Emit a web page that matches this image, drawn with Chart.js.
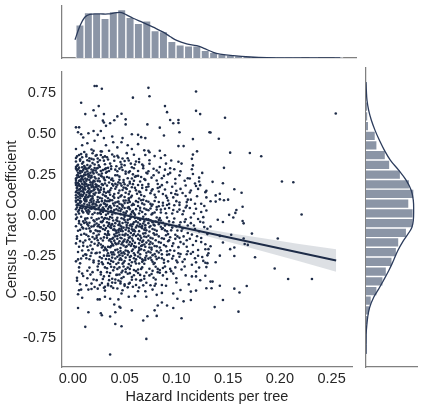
<!DOCTYPE html>
<html>
<head>
<meta charset="utf-8">
<script src="https://cdn.jsdelivr.net/npm/chart.js@4.4.1/dist/chart.umd.min.js"></script>
<style>
  body { margin: 0; background: #fff; width: 423px; height: 410px; position: relative; overflow: hidden; }
  canvas { position: absolute; }
</style>
</head>
<body>
<canvas id="topChart" width="306" height="64" style="left:56px;top:0px"></canvas>
<canvas id="mainChart" width="356" height="342" style="left:0px;top:68px"></canvas>
<canvas id="rightChart" width="63" height="311" style="left:360px;top:62px"></canvas>
<script>
// axis limits and ticks
const xRange = [-0.0105, 0.2697];
const yRange = [-0.928, 0.879];
const xTicks = [0, 0.05, 0.1, 0.15, 0.2, 0.25];
const yTicks = [-0.75, -0.5, -0.25, 0, 0.25, 0.5, 0.75];

// scatter: hazard incidents per tree vs census tract coefficient
const coreLeft = [
  [.003,.352],[.006,.371],[.009,.318],[.004,.305],[.011,.389],[.007,.336],
  [.003,.287],[.005,.262],[.008,.241],[.010,.279],[.003,.226],[.006,.213],[.009,.295],[.011,.251],[.004,.233],[.007,.272],[.003,.204],[.010,.219],[.005,.246],[.008,.208],
  [.003,.187],[.004,.172],[.006,.158],[.009,.194],[.011,.166],[.003,.143],[.007,.181],[.010,.127],[.005,.115],[.008,.149],[.003,.109],[.006,.133],[.009,.176],[.004,.198],[.011,.138],[.007,.121],
  [.003,.092],[.005,.071],[.008,.085],[.010,.054],[.003,.038],[.006,.012],[.009,.027],[.004,.063],[.011,.096],[.007,.046],
  [.003,-.021],[.006,-.048],[.009,-.072],[.005,-.093],[.010,-.036],[.008,-.008],
  [.004,-.128],[.007,-.157],[.010,-.186],[.003,-.171],[.011,-.112],
  [.005,-.224],[.008,-.263],[.003,-.281],[.010,-.247],
  [.006,-.318],[.009,-.356],[.004,-.382],[.007,-.421],
  [.013,.362],[.016,.334],[.019,.381],[.021,.312],[.014,.309],[.018,.347],[.020,.396],
  [.013,.284],[.015,.257],[.017,.231],[.019,.268],[.021,.209],[.014,.222],[.016,.296],[.018,.243],[.020,.277],[.012,.248],[.017,.203],[.021,.236],[.015,.289],
  [.013,.193],[.015,.168],[.017,.146],[.019,.183],[.021,.127],[.014,.112],[.016,.137],[.018,.174],[.020,.154],[.012,.159],[.022,.191],[.017,.119],[.019,.106],[.015,.186],
  [.013,.088],[.016,.062],[.018,.041],[.020,.075],[.014,.019],[.017,.093],[.021,.053],[.015,.034],[.019,.008],[.022,.069],[.013,.047],
  [.014,-.017],[.016,-.044],[.018,-.068],[.020,-.029],[.013,-.081],[.021,-.057],[.017,-.095],[.015,-.062],
  [.013,-.118],[.016,-.146],[.019,-.132],[.021,-.173],[.014,-.191],[.018,-.162],[.020,-.109],
  [.015,-.213],[.017,-.248],[.020,-.276],[.013,-.262],[.022,-.231],
  [.016,-.319],[.019,-.347],[.014,-.384],[.018,-.417],[.021,-.438],
  [.023,.371],[.026,.338],[.029,.356],[.031,.314],[.024,.327],[.028,.392],
  [.023,.288],[.025,.251],[.027,.273],[.030,.226],[.032,.262],[.024,.212],[.028,.239],[.026,.297],[.031,.284],
  [.023,.187],[.025,.154],[.027,.171],[.029,.128],[.031,.196],[.024,.113],[.026,.142],[.030,.163],[.028,.104],[.032,.139],
  [.023,.082],[.025,.047],[.027,.066],[.029,.021],[.031,.091],[.024,.013],[.026,.059],[.028,.036],[.030,.074],[.032,.004],
  [.023,-.024],[.025,-.057],[.027,-.039],[.029,-.083],[.031,-.016],[.024,-.096],[.026,-.071],[.028,-.011],[.030,-.062],
  [.023,-.124],[.025,-.168],[.027,-.141],[.029,-.187],[.031,-.113],[.024,-.152],[.028,-.196],[.030,-.134],
  [.023,-.229],[.026,-.254],[.028,-.287],[.030,-.213],[.032,-.266],[.025,-.296],
  [.024,-.334],[.027,-.361],[.029,-.389],[.031,-.318],[.026,-.426],[.030,-.443]
];

const extraLeft = [
  [.004,.362],[.007,.344],[.010,.327],[.005,.311],[.008,.376],[.011,.303],[.003,.331],[.009,.357],
  [.003,.297],[.005,.283],[.007,.259],[.009,.268],[.011,.288],[.004,.247],[.006,.236],[.008,.222],[.010,.241],
  [.012,.263],[.003,.217],[.005,.201],[.007,.214],[.009,.229],[.011,.206],[.004,.276],[.006,.293],[.008,.271],
  [.003,.196],[.005,.183],[.007,.162],[.009,.171],[.011,.189],[.004,.153],[.006,.141],[.008,.129],[.010,.146],
  [.012,.178],[.003,.124],[.005,.137],[.007,.106],[.009,.118],[.011,.101],[.004,.167],[.006,.191],[.008,.174],
  [.010,.157],[.012,.113],
  [.003,.084],[.005,.096],[.007,.078],[.009,.061],[.011,.072],[.004,.049],[.006,.033],[.008,.057],[.010,.019],
  [.012,.041],[.003,.006],[.005,.024],[.007,.089],[.009,.043],
  [.004,-.012],[.006,-.034],[.008,-.057],[.010,-.079],[.012,-.018],[.003,-.066],[.007,-.088],[.011,-.046],
  [.004,-.142],[.006,-.191],[.008,-.118],[.010,-.166],[.012,-.237],[.005,-.269],[.009,-.214],[.007,-.293],
  [.006,-.343],[.010,-.371],[.004,-.399],
  [.013,.374],[.016,.351],[.019,.321],[.022,.366],[.014,.338],[.017,.304],[.020,.343],
  [.012,.294],[.014,.271],[.016,.246],[.018,.282],[.020,.258],[.022,.227],[.013,.213],[.015,.238],[.017,.262],
  [.019,.204],[.021,.291],[.012,.226],[.014,.251],[.016,.217],[.018,.234],[.020,.212],[.022,.276],
  [.012,.197],[.014,.181],[.016,.163],[.018,.148],[.020,.172],[.022,.139],[.013,.126],[.015,.151],[.017,.188],
  [.019,.117],[.021,.161],[.012,.108],[.014,.143],[.016,.124],[.018,.101],[.020,.133],[.022,.176],[.015,.113],
  [.019,.194],
  [.012,.087],[.014,.066],[.016,.078],[.018,.053],[.020,.091],[.022,.038],[.013,.029],[.015,.011],[.017,.044],
  [.019,.068],[.021,.017],[.013,.097],[.016,.024],[.018,.083],[.020,.051],
  [.012,-.026],[.014,-.053],[.016,-.079],[.018,-.014],[.020,-.066],[.022,-.091],[.013,-.041],[.017,-.098],[.021,-.037],
  [.012,-.153],[.015,-.127],[.017,-.184],[.019,-.206],[.021,-.143],[.013,-.241],[.016,-.268],[.018,-.229],[.020,-.287],
  [.014,-.338],[.017,-.362],[.020,-.392],[.013,-.427],
  [.024,.349],[.027,.371],[.030,.336],[.025,.307],[.031,.362],
  [.023,.263],[.025,.227],[.027,.244],[.029,.278],[.031,.216],[.024,.291],[.026,.209],[.028,.257],[.030,.233],[.032,.289],
  [.023,.176],[.025,.139],[.027,.158],[.029,.187],[.031,.121],[.024,.164],[.026,.108],[.028,.192],[.030,.146],
  [.032,.117],[.025,.181],
  [.023,.061],[.025,.083],[.027,.027],[.029,.049],[.031,.071],[.024,.096],[.026,.016],[.028,.088],[.030,.039],
  [.032,.057],[.027,.009],
  [.023,-.049],[.025,-.018],[.027,-.073],[.029,-.034],[.031,-.088],[.024,-.066],[.026,-.097],[.028,-.041],
  [.030,-.021],[.032,-.077],
  [.023,-.137],[.025,-.116],[.027,-.178],[.029,-.153],[.031,-.197],[.024,-.183],[.026,-.227],[.028,-.262],
  [.030,-.246],[.032,-.207],[.025,-.279],[.029,-.298],
  [.024,-.312],[.027,-.347],[.030,-.373],[.023,-.396],[.028,-.414],[.031,-.437]
];

const coreMid = [
  [.033,.357],[.036,.318],[.038,.374],[.040,.335],[.042,.302],
  [.033,.268],[.035,.231],[.037,.285],[.039,.213],[.041,.247],[.034,.292],[.038,.226],
  [.033,.183],[.035,.142],[.037,.167],[.039,.118],[.041,.194],[.034,.106],[.036,.155],[.040,.131],[.042,.176],
  [.033,.087],[.035,.052],[.037,.029],[.039,.073],[.041,.014],[.034,.041],[.036,.094],[.038,.006],[.040,.061],[.042,.038],
  [.033,-.018],[.035,-.047],[.037,-.076],[.039,-.031],[.041,-.092],[.034,-.064],[.036,-.009],[.038,-.053],[.040,-.084],[.042,-.027],
  [.033,-.121],[.035,-.153],[.037,-.187],[.039,-.136],[.041,-.168],[.034,-.109],[.036,-.194],[.038,-.142],[.040,-.117],[.042,-.176],
  [.033,-.214],[.035,-.247],[.037,-.278],[.039,-.226],[.041,-.263],[.034,-.291],[.038,-.239],[.042,-.297],
  [.033,-.323],[.036,-.352],[.038,-.387],[.040,-.318],[.042,-.364],[.035,-.396],[.034,-.419],[.037,-.434],[.041,-.412],
  [.043,.366],[.046,.327],[.048,.349],[.050,.308],[.052,.382],
  [.043,.271],[.045,.238],[.047,.296],[.049,.217],[.051,.256],[.044,.203],[.048,.279],
  [.043,.188],[.045,.153],[.047,.124],[.049,.171],[.051,.139],[.044,.108],[.046,.196],[.050,.113],[.052,.162],
  [.043,.083],[.045,.046],[.047,.067],[.049,.018],[.051,.092],[.044,.031],[.046,.008],[.048,.054],[.050,.076],[.052,.025],
  [.043,-.014],[.045,-.038],[.047,-.069],[.049,-.021],[.051,-.087],[.044,-.058],[.046,-.094],[.048,-.046],[.050,-.007],[.052,-.073],[.045,-.081],
  [.043,-.126],[.045,-.158],[.047,-.139],[.049,-.184],[.051,-.112],[.044,-.171],[.046,-.199],[.048,-.118],[.050,-.147],[.052,-.163],
  [.043,-.208],[.045,-.243],[.047,-.271],[.049,-.226],[.051,-.258],[.044,-.289],[.046,-.217],[.048,-.296],[.050,-.234],
  [.043,-.327],[.045,-.361],[.047,-.384],[.049,-.312],[.051,-.346],[.044,-.398],[.048,-.339],[.046,-.416],[.050,-.431],[.043,-.447],
  [.053,.351],[.056,.318],[.059,.372],[.061,.331],
  [.054,.264],[.057,.227],[.059,.289],[.061,.241],[.055,.206],[.058,.252],
  [.053,.184],[.055,.147],[.057,.121],[.060,.169],[.062,.133],[.054,.106],[.058,.192],
  [.053,.078],[.055,.039],[.057,.063],[.059,.014],[.061,.088],[.054,.051],[.058,.027],[.060,.004],
  [.053,-.027],[.055,-.061],[.057,-.084],[.059,-.042],[.061,-.073],[.054,-.096],[.056,-.012],[.058,-.053],[.060,-.097],
  [.053,-.119],[.055,-.162],[.057,-.141],[.059,-.187],[.061,-.126],[.054,-.178],[.056,-.107],[.058,-.154],[.060,-.196],
  [.053,-.218],[.055,-.254],[.057,-.286],[.059,-.231],[.061,-.269],[.054,-.297],[.058,-.208],[.060,-.243],
  [.053,-.319],[.055,-.353],[.057,-.377],[.059,-.334],[.061,-.392],[.056,-.308],[.054,-.418],[.058,-.436],[.061,-.426],
  [.064,.346],[.067,.312],[.070,.371],
  [.063,.273],[.066,.236],[.068,.289],[.070,.218],[.072,.257],
  [.063,.187],[.065,.143],[.067,.169],[.069,.118],[.071,.156],[.064,.104],
  [.063,.082],[.065,.047],[.067,.021],[.069,.067],[.071,.036],[.066,.093],[.070,.008],
  [.063,-.019],[.065,-.054],[.067,-.078],[.069,-.036],[.071,-.091],[.064,-.067],[.068,-.008],[.070,-.059],
  [.063,-.117],[.065,-.152],[.067,-.183],[.069,-.129],[.071,-.166],[.064,-.198],[.066,-.137],[.068,-.111],[.070,-.191],
  [.063,-.226],[.065,-.259],[.067,-.284],[.069,-.213],[.071,-.247],[.064,-.294],[.066,-.207],[.070,-.272],
  [.063,-.331],[.065,-.364],[.067,-.318],[.069,-.387],[.071,-.349],[.066,-.396],[.068,-.428],[.064,-.441]
];

const extraMid = [
  [.034,.343],[.037,.301],[.040,.361],[.035,.273],[.041,.281],
  [.033,.236],[.035,.202],[.037,.219],[.039,.183],[.041,.164],[.034,.146],[.036,.127],[.038,.193],[.040,.108],
  [.033,.066],[.035,.088],[.037,.047],[.039,.021],[.041,.079],[.034,.012],[.036,.058],[.038,.093],[.040,.033],
  [.033,-.041],[.035,-.023],[.037,-.061],[.039,-.088],[.041,-.047],[.034,-.097],[.036,-.072],[.038,-.014],
  [.040,-.066],[.042,-.093],[.035,-.054],
  [.033,-.137],[.035,-.118],[.037,-.161],[.039,-.183],[.041,-.127],[.034,-.192],[.036,-.146],[.038,-.173],
  [.040,-.154],[.042,-.108],
  [.033,-.246],[.035,-.268],[.037,-.226],[.039,-.284],[.041,-.212],[.034,-.231],[.036,-.297],[.038,-.258],[.040,-.239],
  [.033,-.347],[.035,-.371],[.037,-.314],[.039,-.336],[.041,-.392],[.034,-.428],[.038,-.411],
  [.044,.356],[.047,.312],[.050,.334],[.045,.287],[.051,.269],
  [.043,.247],[.045,.219],[.047,.183],[.049,.204],[.051,.168],[.044,.138],[.046,.117],[.048,.156],[.050,.191],
  [.043,.057],[.045,.072],[.047,.038],[.049,.091],[.051,.014],[.044,.086],[.046,.027],[.048,.063],[.050,.046],
  [.043,-.033],[.045,-.052],[.047,-.017],[.049,-.074],[.051,-.041],[.044,-.089],[.046,-.063],[.048,-.096],
  [.050,-.028],[.052,-.058],[.047,-.083],
  [.043,-.142],[.045,-.118],[.047,-.176],[.049,-.157],[.051,-.193],[.044,-.103],[.046,-.136],[.048,-.166],
  [.050,-.122],[.052,-.188],
  [.043,-.253],[.045,-.271],[.047,-.231],[.049,-.288],[.051,-.214],[.044,-.226],[.046,-.262],[.048,-.247],[.050,-.279],
  [.043,-.363],[.045,-.318],[.047,-.349],[.049,-.377],[.051,-.329],[.046,-.404],[.050,-.422],
  [.054,.337],[.057,.296],[.060,.312],[.055,.271],
  [.053,.228],[.055,.196],[.057,.173],[.059,.213],[.061,.154],[.054,.131],[.056,.112],[.060,.237],
  [.053,.047],[.055,.083],[.057,.021],[.059,.066],[.061,.039],[.054,.094],[.056,.008],[.058,.071],
  [.053,-.044],[.055,-.021],[.057,-.068],[.059,-.087],[.061,-.036],[.054,-.079],[.056,-.056],[.058,-.093],
  [.060,-.016],[.062,-.062],
  [.053,-.152],[.055,-.131],[.057,-.174],[.059,-.113],[.061,-.191],[.054,-.137],[.056,-.186],[.058,-.121],[.060,-.167],
  [.053,-.241],[.055,-.273],[.057,-.217],[.059,-.262],[.061,-.294],[.054,-.226],[.056,-.249],[.060,-.282],
  [.053,-.357],[.055,-.327],[.057,-.394],[.059,-.366],[.061,-.341],[.055,-.413],
  [.064,.327],[.068,.304],[.071,.262],
  [.063,.243],[.065,.208],[.067,.187],[.069,.224],[.071,.173],[.064,.147],[.066,.126],
  [.063,.058],[.065,.031],[.067,.074],[.069,.043],[.071,.089],[.064,.012],[.068,.096],
  [.063,-.043],[.065,-.028],[.067,-.064],[.069,-.087],[.071,-.021],[.064,-.096],[.066,-.071],[.068,-.049],[.070,-.076],
  [.063,-.143],[.065,-.124],[.067,-.162],[.069,-.178],[.071,-.132],[.064,-.171],[.066,-.187],[.068,-.154],[.070,-.108],
  [.063,-.251],[.065,-.237],[.067,-.268],[.069,-.296],[.071,-.228],[.064,-.213],[.068,-.276],[.070,-.259],
  [.063,-.352],[.066,-.327],[.069,-.371],[.071,-.412],[.065,-.398]
];

const coreRight = [
  [.074,.338],[.079,.364],
  [.073,.271],[.076,.232],[.078,.286],[.081,.214],
  [.073,.178],[.075,.137],[.077,.161],[.080,.112],[.082,.193],
  [.073,.084],[.075,.043],[.077,.067],[.079,.018],[.081,.052],[.076,.006],
  [.073,-.023],[.075,-.064],[.077,-.041],[.079,-.087],[.081,-.012],[.074,-.098],[.078,-.056],
  [.073,-.124],[.075,-.163],[.077,-.141],[.079,-.187],[.081,-.116],[.074,-.176],[.076,-.198],[.080,-.152],
  [.073,-.221],[.075,-.258],[.077,-.283],[.079,-.236],[.081,-.267],[.076,-.209],[.078,-.297],
  [.074,-.326],[.076,-.358],[.078,-.381],[.080,-.314],[.082,-.347],[.075,-.427],[.080,-.418],
  [.085,.352],[.090,.318],
  [.083,.263],[.086,.228],[.089,.281],
  [.084,.174],[.087,.132],[.089,.159],[.091,.108],
  [.083,.083],[.085,.036],[.087,.061],[.090,.014],[.092,.092],
  [.083,-.027],[.085,-.069],[.087,-.044],[.089,-.091],[.091,-.013],[.086,-.082],
  [.083,-.128],[.085,-.167],[.088,-.143],[.090,-.189],[.092,-.114],[.084,-.196],
  [.083,-.227],[.086,-.262],[.088,-.289],[.091,-.241],[.085,-.213],
  [.084,-.334],[.087,-.367],[.089,-.312],[.091,-.389],[.086,-.426],
  [.095,.337],[.094,.261],[.099,.224],[.096,.176],[.101,.127],[.093,.071],[.097,.034],[.100,.088],
  [.093,-.036],[.096,-.074],[.098,-.018],[.101,-.092],[.094,-.133],[.097,-.171],[.099,-.118],[.102,-.194],
  [.093,-.238],[.096,-.264],[.098,-.216],[.101,-.287],[.094,-.327],[.097,-.356],[.100,-.384],
  [.105,.318],[.103,.246],[.108,.213],[.104,.163],[.109,.119],[.103,.064],[.107,.027],[.110,.082],
  [.104,-.041],[.106,-.079],[.109,-.023],[.111,-.061],[.103,-.137],[.107,-.174],[.110,-.152],
  [.104,-.236],[.108,-.268],[.111,-.219],[.105,-.331],[.109,-.367],
  [.115,.283],[.113,.227],[.118,.196],[.114,.153],[.120,.118],[.113,.046],[.117,.012],
  [.114,-.047],[.118,-.083],[.121,-.021],[.113,-.142],[.116,-.181],[.120,-.127],
  [.114,-.234],[.118,-.262],[.121,-.211],[.115,-.302],[.119,-.343],
  [.125,.261],[.123,.186],[.128,.143],[.124,.072],[.129,.031],[.123,-.038],
  [.127,-.071],[.130,-.114],[.124,-.163],[.128,-.207],[.125,-.254],[.130,-.292]
];

const extraRight = [
  [.074,.317],[.078,.247],[.081,.276],
  [.073,.193],[.076,.152],[.079,.127],[.082,.168],
  [.073,.032],[.075,.071],[.077,.013],[.079,.089],[.081,.036],[.076,.058],
  [.073,-.047],[.075,-.029],[.077,-.083],[.079,-.061],[.081,-.094],[.074,-.071],[.080,-.037],
  [.073,-.153],[.075,-.137],[.077,-.172],[.079,-.118],[.081,-.189],[.074,-.196],[.078,-.109],
  [.073,-.264],[.075,-.227],[.077,-.243],[.079,-.291],[.081,-.218],[.076,-.273],[.080,-.251],
  [.074,-.367],[.077,-.339],[.080,-.392],[.082,-.327],
  [.084,.297],[.088,.243],[.091,.203],[.083,.147],[.086,.186],[.090,.121],
  [.083,.057],[.085,.018],[.087,.078],[.089,.041],[.091,.064],
  [.083,-.053],[.085,-.031],[.087,-.078],[.089,-.062],[.091,-.097],[.084,-.016],
  [.083,-.163],[.086,-.139],[.088,-.181],[.090,-.121],[.092,-.158],
  [.083,-.259],[.086,-.238],[.088,-.271],[.091,-.219],
  [.084,-.351],[.087,-.322],[.090,-.347],[.092,-.281],
  [.094,.289],[.099,.196],[.095,.138],[.100,.152],[.093,.046],[.096,.012],[.098,.063],[.101,.023],
  [.093,-.058],[.095,-.091],[.097,-.041],[.100,-.067],[.093,-.152],[.096,-.187],[.099,-.143],[.101,-.128],
  [.094,-.213],[.097,-.248],[.100,-.276],[.102,-.231],[.095,-.341],[.099,-.318],
  [.104,.271],[.109,.184],[.106,.138],[.111,.097],[.103,.036],[.106,.008],[.109,.049],
  [.103,-.058],[.105,-.094],[.108,-.039],[.111,-.107],[.104,-.163],[.107,-.128],[.110,-.191],
  [.103,-.253],[.106,-.284],[.110,-.237],[.108,-.312],
  [.116,.254],[.121,.163],[.114,.097],[.118,.072],[.124,.021],[.127,.058],
  [.114,-.012],[.117,-.061],[.122,-.097],[.126,-.043],[.130,-.081],
  [.115,-.117],[.119,-.156],[.124,-.138],[.128,-.176],
  [.116,-.224],[.121,-.247],[.126,-.278],[.119,-.287],[.131,-.231]
];

const upperTail = [
  [.021,.793],[.023,.793],[.028,.776],[.073,.782],[.119,.760],[.058,.722],[.074,.730],[.008,.691],
  [.025,.670],[.020,.645],[.012,.621],[.022,.611],[.030,.621],[.047,.623],[.043,.607],[.089,.670],
  [.091,.633],[.119,.641],[.123,.621],[.029,.581],[.030,.570],[.040,.583],[.036,.565],[.051,.589],
  [.051,.558],[.072,.558],[.094,.585],[.097,.565],[.102,.585],[.102,.567],[.084,.538],[.032,.549],
  [.027,.518],[.003,.540],[.006,.540],[.005,.510],[.008,.498],[.010,.478],[.015,.504],[.020,.518],
  [.024,.494],[.030,.474],[.038,.484],[.039,.449],[.048,.474],[.047,.449],[.057,.498],[.063,.494],
  [.066,.480],[.070,.474],[.103,.510],[.088,.490],[.132,.510],[.116,.468],[.102,.425],[.107,.425],
  [.003,.407],[.009,.430],[.014,.443],[.021,.458],[.018,.404],[.027,.393],[.032,.430],[.035,.397],
  [.043,.417],[.053,.430],[.057,.407],[.063,.437],[.069,.399],[.073,.397],[.084,.397],[.089,.369],
  [.074,.387],[.116,.373],[.120,.393],[.115,.347],[.116,.307],[.102,.329],[.098,.283],[.092,.252],
  [.111,.228],[.122,.232],[.122,.208],[.119,.181],[.129,.151],[.113,.141],[.129,.111],[.110,.060],
  [.119,.041],[.126,-.010],[.103,.080],[.099,.131],[.097,.111]
];

const lowerTail = [
  [.036,-.851],[.071,-.756],[.012,-.682],[.041,-.665],[.047,-.678],[.068,-.643],[.072,-.617],[.081,-.615],
  [.105,-.629],[.005,-.567],[.015,-.593],[.027,-.599],[.028,-.611],[.036,-.619],[.041,-.593],[.057,-.581],
  [.045,-.559],[.046,-.565],[.040,-.545],[.079,-.581],[.082,-.551],[.086,-.533],[.097,-.567],[.091,-.551],
  [.107,-.526],[.114,-.518],[.009,-.504],[.024,-.514],[.026,-.514],[.031,-.498],[.036,-.510],[.044,-.514],
  [.054,-.498],[.060,-.494],[.071,-.498],[.081,-.486],[.101,-.510],[.097,-.478],[.005,-.482],[.006,-.458],
  [.008,-.454],[.015,-.454],[.018,-.450],[.024,-.448],[.031,-.460],[.039,-.444],[.047,-.478],[.048,-.458],
  [.053,-.440],[.063,-.464],[.070,-.464],[.077,-.454],[.079,-.430],[.086,-.474],[.090,-.430],[.104,-.456],
  [.114,-.466],[.119,-.460],[.112,-.422],[.123,-.397],[.129,-.446],[.115,-.373],[.119,-.373],[.100,-.410],
  [.128,-.369],[.122,-.319],[.129,-.316]
];

const rightTail = [
  [.254,.625],[.147,.599],[.133,.508],[.141,.470],[.152,.385],[.171,.383],[.182,.363],[.146,.292],
  [.202,.208],[.213,.204],[.135,.206],[.145,.198],[.156,.161],[.163,.139],[.138,.123],[.142,.133],
  [.133,.087],[.138,.085],[.142,.099],[.146,.093],[.150,.097],[.164,.054],[.158,.034],[.157,.016],
  [.151,.004],[.155,-.012],[.140,-.026],[.145,-.040],[.164,-.034],[.165,-.048],[.221,.006],[.133,-.067],
  [.173,-.111],[.153,-.118],[.142,-.125],[.130,-.109],[.198,-.141],[.165,-.141],[.145,-.165],[.166,-.175],
  [.169,-.180],[.133,-.188],[.156,-.196],[.152,-.206],[.131,-.206],[.130,-.244],[.142,-.246],[.156,-.248],
  [.176,-.256],[.138,-.286],[.128,-.289],[.195,-.325],[.208,-.389],[.231,-.389],[.133,-.405],[.135,-.405],
  [.134,-.446],[.142,-.430],[.156,-.448],[.168,-.432],[.161,-.472],[.145,-.518],[.137,-.561],[.160,-.589]
];

// regression fit and 95% band
const fitX = [0.0026, 0.2544];
const fitY = [0.068, -0.276];
const bandX = [0.0026, 0.027, 0.052, 0.077, 0.102, 0.127, 0.157, 0.187, 0.217, 0.2544];
const bandUpper = [0.084, 0.046, 0.010, -0.024, -0.054, -0.081, -0.113, -0.143, -0.173, -0.207];
const bandLower = [0.052, 0.024, -0.008, -0.044, -0.082, -0.123, -0.173, -0.225, -0.277, -0.345];

// top marginal: histogram of hazard incidents per tree
const topBinCenters = [0.0066, 0.0146, 0.0225, 0.0305, 0.0384, 0.0464, 0.0544, 0.0623, 0.0703, 0.0782,
  0.0862, 0.0942, 0.1021, 0.1101, 0.1180, 0.1260, 0.1340, 0.1419, 0.1499, 0.1578, 0.1658, 0.1738,
  0.1817, 0.1897, 0.1976, 0.2056, 0.2136, 0.2215, 0.2295, 0.2374, 0.2454, 0.2534];
const topBinCounts = [100, 137, 135, 120, 140, 146, 123, 105, 112, 83, 80, 50, 40, 37, 37, 23, 17, 12,
  9, 7, 5, 3, 2, 2, 1, 1, 1, 0, 1, 0, 0, 1];
const topKdeX = [0.0019, 0.0064, 0.0112, 0.0160, 0.0255, 0.0334, 0.0415, 0.0462, 0.0510, 0.0573, 0.0669,
  0.0764, 0.0860, 0.0924, 0.0988, 0.1083, 0.1179, 0.1242, 0.1337, 0.1401, 0.1528, 0.1688, 0.1847, 0.2165, 0.2547];
const topKdeY = [55, 95, 123, 132, 133, 133, 137, 137, 130, 120, 107, 93, 78, 65, 53, 43, 37, 30, 17, 12, 7, 3, 1, 0.3, 0.2];

// right marginal: histogram of census tract coefficient
const rightBinCenters = [0.762, 0.703, 0.645, 0.586, 0.528, 0.469, 0.411, 0.352, 0.293, 0.235, 0.176, 0.118,
  0.059, 0.000, -0.058, -0.117, -0.175, -0.234, -0.293, -0.351, -0.410, -0.469, -0.527, -0.586, -0.644,
  -0.703, -0.762, -0.820];
const rightBinCounts = [1, 1, 5, 5, 8, 28, 33, 58, 71, 103, 130, 143, 128, 141, 141, 121, 98, 91, 78, 61,
  51, 33, 16, 11, 5, 1, 1, 1];
const rightKdeY = [0.794, 0.745, 0.684, 0.623, 0.563, 0.502, 0.442, 0.381, 0.321, 0.260, 0.200, 0.139, 0.079,
  0.018, -0.042, -0.083, -0.103, -0.163, -0.224, -0.284, -0.345, -0.405, -0.456, -0.506, -0.567, -0.627,
  -0.708, -0.768, -0.850];
const rightKdeX = [0, 1, 3, 8, 16, 27, 40, 55, 73, 98, 120, 135, 141, 142, 141, 137, 132, 112, 95, 82, 68,
  52, 38, 23, 11, 5, 1, 0.3, 0];

const INK = "rgb(30,44,72)";
const KDE_LINE = "rgb(44,60,92)";
const BAR = "rgb(139,149,166)";
const SPINE = "#808080";
const TEXT = "#262626";
const FONT = "'Liberation Sans', Arial, sans-serif";

const toXY = (xs, ys) => xs.map((x, i) => ({ x, y: ys[i] }));
const pairs = (list) => list.map(([x, y]) => ({ x, y }));

function fixedTicks(values) {
  return (scale) => {
    scale.ticks = values.map((value) => ({ value }));
  };
}

function sized(prop, size) {
  return (scale) => {
    scale[prop] = size;
    scale.paddingLeft = 0;
    scale.paddingRight = 0;
    scale.paddingTop = 0;
    scale.paddingBottom = 0;
  };
}

const border = { display: true, color: SPINE, width: 1.25 };
const noGrid = { display: false, drawTicks: false };
const baseOptions = {
  responsive: false,
  animation: false,
  events: [],
  plugins: { legend: { display: false }, tooltip: { enabled: false } }
};

const scatterPoints = pairs([
  ...coreLeft, ...extraLeft, ...coreMid, ...extraMid, ...coreRight, ...extraRight,
  ...upperTail, ...lowerTail, ...rightTail
]);

new Chart(document.getElementById("mainChart"), {
  type: "scatter",
  data: {
    datasets: [
      {
        type: "line",
        data: toXY(fitX, fitY),
        borderColor: INK,
        borderWidth: 2,
        pointRadius: 0,
        order: 1
      },
      {
        type: "line",
        data: toXY(bandX, bandUpper),
        borderWidth: 0,
        borderColor: "rgba(0,0,0,0)",
        pointRadius: 0,
        fill: "+1",
        backgroundColor: "rgba(30,44,72,0.15)",
        order: 2
      },
      {
        type: "line",
        data: toXY(bandX, bandLower),
        borderWidth: 0,
        borderColor: "rgba(0,0,0,0)",
        pointRadius: 0,
        fill: false,
        order: 2
      },
      {
        data: scatterPoints,
        backgroundColor: INK,
        borderWidth: 0,
        pointRadius: 1.3,
        order: 3
      }
    ]
  },
  options: {
    ...baseOptions,
    layout: { padding: 0 },
    scales: {
      x: {
        type: "linear",
        min: xRange[0],
        max: xRange[1],
        grid: noGrid,
        border,
        ticks: {
          padding: 3,
          color: TEXT,
          font: { family: FONT, size: 14.5 },
          callback: (value) => value.toFixed(2)
        },
        afterBuildTicks: fixedTicks(xTicks),
        afterFit: sized("height", 43),
        title: {
          display: true,
          text: "Hazard Incidents per tree",
          color: TEXT,
          font: { family: FONT, size: 14.5 },
          padding: { top: 0, bottom: 4 }
        }
      },
      y: {
        type: "linear",
        min: yRange[0],
        max: yRange[1],
        grid: noGrid,
        border,
        ticks: {
          padding: 6,
          color: TEXT,
          font: { family: FONT, size: 14.5 },
          callback: (value) => value.toFixed(2)
        },
        afterBuildTicks: fixedTicks(yTicks),
        afterFit: sized("width", 62),
        title: {
          display: true,
          text: "Census Tract Coefficient",
          color: TEXT,
          font: { family: FONT, size: 14.5 },
          padding: { top: 3, bottom: 0 }
        }
      }
    }
  }
});

new Chart(document.getElementById("topChart"), {
  type: "bar",
  data: {
    datasets: [
      {
        type: "line",
        data: toXY(topKdeX, topKdeY),
        borderColor: KDE_LINE,
        borderWidth: 1.3,
        pointRadius: 0,
        tension: 0.4,
        order: 1
      },
      {
        data: toXY(topBinCenters, topBinCounts),
        backgroundColor: BAR,
        borderColor: "#fff",
        borderWidth: 1,
        barPercentage: 1,
        categoryPercentage: 1,
        order: 2
      }
    ]
  },
  options: {
    ...baseOptions,
    layout: { padding: { left: 6, right: 6, top: 6, bottom: 6 } },
    scales: {
      x: {
        type: "linear",
        offset: false,
        min: xRange[0],
        max: xRange[1],
        grid: noGrid,
        border,
        ticks: { display: false },
        afterFit: sized("height", 0)
      },
      y: {
        type: "linear",
        min: 0,
        max: 157,
        grid: noGrid,
        border,
        ticks: { display: false },
        afterFit: sized("width", 0)
      }
    }
  }
});

new Chart(document.getElementById("rightChart"), {
  type: "bar",
  data: {
    datasets: [
      {
        type: "line",
        data: toXY(rightKdeX, rightKdeY),
        borderColor: KDE_LINE,
        borderWidth: 1.3,
        pointRadius: 0,
        tension: 0.4,
        order: 1
      },
      {
        data: toXY(rightBinCounts, rightBinCenters),
        backgroundColor: BAR,
        borderColor: "#fff",
        borderWidth: 1,
        barPercentage: 1,
        categoryPercentage: 1,
        order: 2
      }
    ]
  },
  options: {
    ...baseOptions,
    indexAxis: "y",
    layout: { padding: { left: 6, right: 6, top: 6, bottom: 6 } },
    scales: {
      x: {
        type: "linear",
        min: 0,
        max: 152,
        grid: noGrid,
        border,
        ticks: { display: false },
        afterFit: sized("height", 0)
      },
      y: {
        type: "linear",
        offset: false,
        min: yRange[0],
        max: yRange[1],
        grid: noGrid,
        border,
        ticks: { display: false },
        afterFit: sized("width", 0)
      }
    }
  }
});
</script>
</body>
</html>
